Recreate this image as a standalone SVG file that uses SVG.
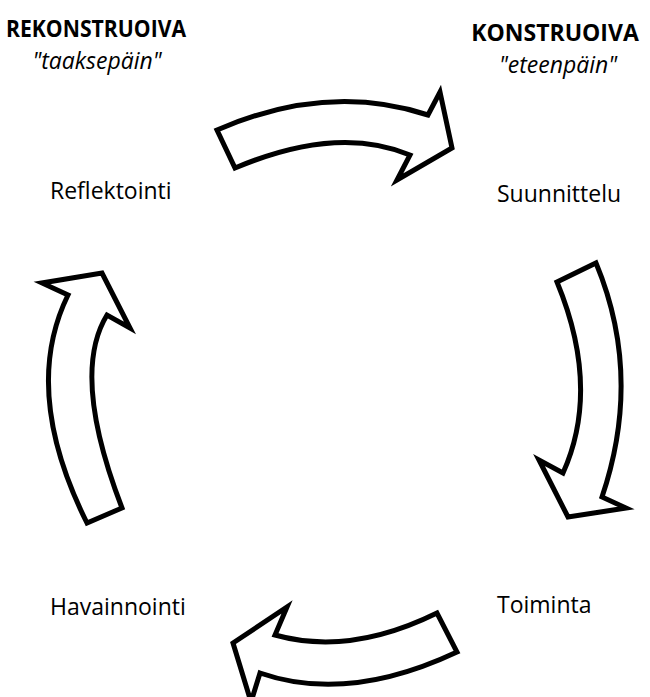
<svg xmlns="http://www.w3.org/2000/svg" width="650" height="697" viewBox="0 0 650 697">
<style>
.arrow{fill:#fff;stroke:#000;stroke-width:5;stroke-linejoin:miter}
.t{font-family:"Open Sans","Noto Sans",sans-serif;font-size:23px;fill:#000}
.b{font-weight:bold}
.i{font-style:italic}
</style>
<rect width="650" height="697" fill="#fff"/>
<g id="rekonstruoiva"><text class="t b" x="96" y="37" text-anchor="middle" textLength="180" lengthAdjust="spacingAndGlyphs">REKONSTRUOIVA</text><text class="t i" x="97" y="69" text-anchor="middle">"taaksepäin"</text></g>
<g id="konstruoiva"><text class="t b" x="555" y="41" text-anchor="middle">KONSTRUOIVA</text><text class="t i" x="558" y="73" text-anchor="middle">"eteenpäin"</text></g>
<g id="reflektointi"><text class="t" x="50" y="199">Reflektointi</text></g>
<g id="suunnittelu"><text class="t" x="497" y="202">Suunnittelu</text></g>
<g id="toiminta"><text class="t" x="497" y="613">Toiminta</text></g>
<g id="havainnointi"><text class="t" x="50" y="615">Havainnointi</text></g>
<g id="connectors">
<path id="arrow-top" class="arrow" d="M217,130 Q327.5,82 428,115 L440,92 L452,148 L397,180 L410,155 Q337.5,124.5 235,168 Z"/>
<path id="arrow-right" class="arrow" d="M596,263 Q643,376 602,497 L626,508 L568,517 L539,460 L563,473 Q601,388.5 557,282 Z"/>
<path id="arrow-bottom" class="arrow" d="M437,613 Q350,656 275,635 L287,607 L233,643 L251,702 L260,673 Q347.5,703.5 457,652 Z"/>
<path id="arrow-left" class="arrow" d="M87,523 Q21,391 68,295 L42,283 L102,273 L130,328 L107,315 Q70.5,374.5 122,508 Z"/>
</g>
</svg>
